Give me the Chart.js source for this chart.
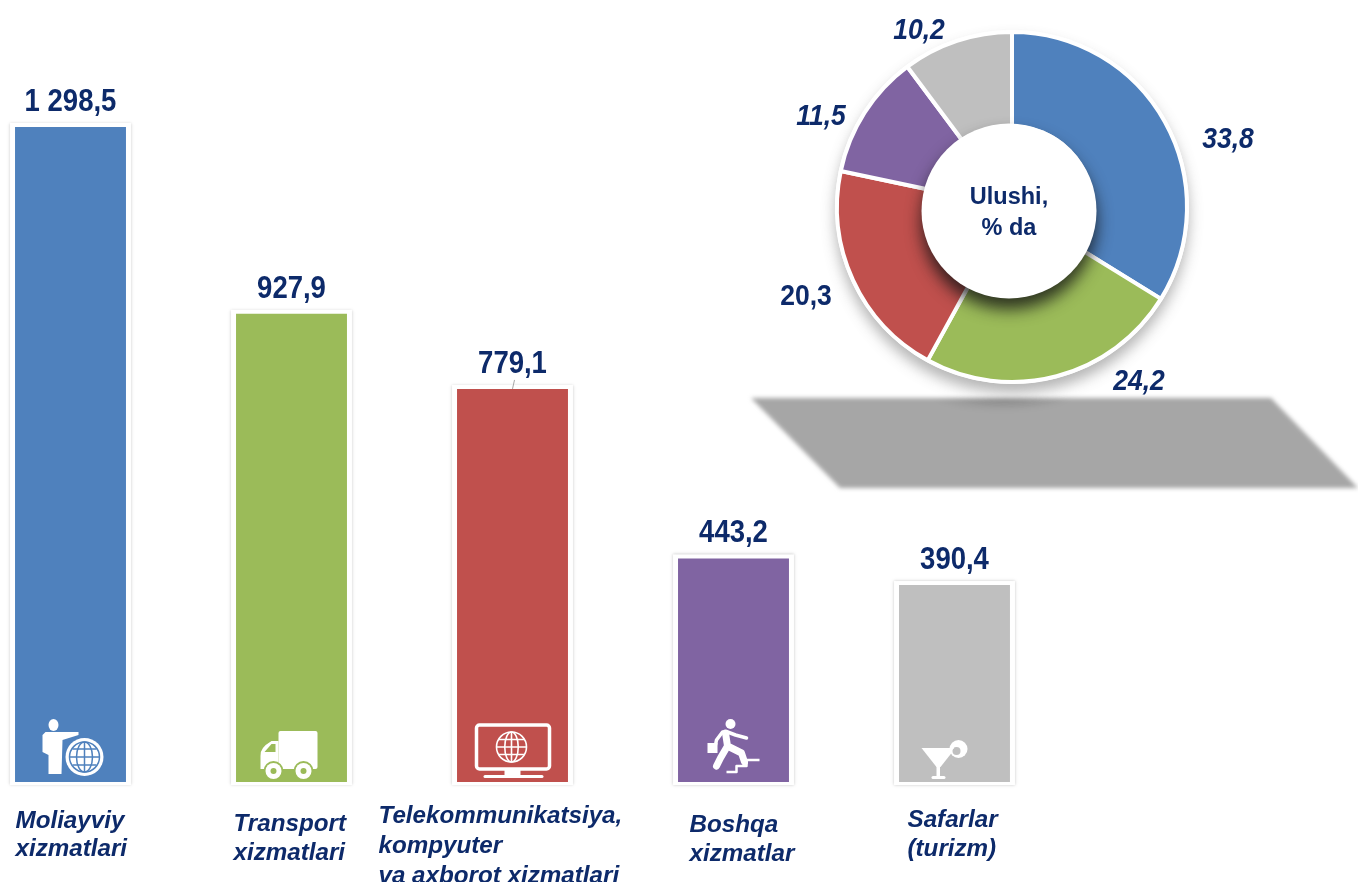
<!DOCTYPE html>
<html>
<head>
<meta charset="utf-8">
<title>Xizmatlar</title>
<script src="https://cdn.jsdelivr.net/npm/chart.js@4"></script>
<style>
    html, body { margin: 0; padding: 0; background: #fff; width: 1358px; height: 882px; overflow: hidden; }
    #page { position: relative; width: 1358px; height: 882px; overflow: hidden; filter: blur(0.4px); }
    #barChart { position: absolute; left: -40px; top: 0; }
    #pieChart { position: absolute; left: 750px; top: 0; }
    #floorWrap { position: absolute; left: 740px; top: 390px; width: 640px; height: 110px; filter: blur(2px); }
    #floor {
        position: absolute; inset: 0;
        background:
            radial-gradient(ellipse 70px 14px at 262px 8px, rgba(120,120,120,.55), rgba(120,120,120,0)),
            #a6a6a6;
        clip-path: polygon(11px 8px, 531px 8px, 618px 98px, 100px 98px);
    }
</style>
</head>
<body>
<div id="page">
    <div id="floorWrap"><div id="floor"></div></div>
    <canvas id="barChart" width="1398" height="882"></canvas>
    <canvas id="pieChart" width="524" height="420"></canvas>
</div>

<script>
// Data
const categories = ["Moliayviy xizmatlari", "Transport xizmatlari", "Telekommunikatsiya, kompyuter va axborot xizmatlari", "Boshqa xizmatlar", "Safarlar (turizm)"];
const volumes = [1298.5, 927.9, 779.1, 443.2, 390.4];
const volumeLabels = ["1 298,5", "927,9", "779,1", "443,2", "390,4"];
const shares = [33.8, 24.2, 20.3, 11.5, 10.2];
const shareLabels = ["33,8", "24,2", "20,3", "11,5", "10,2"];
const categoryLines = [
    ["Moliayviy", "xizmatlari"],
    ["Transport", "xizmatlari"],
    ["Telekommunikatsiya,", "kompyuter", "va axborot xizmatlari"],
    ["Boshqa", "xizmatlar"],
    ["Safarlar", "(turizm)"]
];
const centerLines = ["Ulushi,", "% da"];

// Colours
const colors = ["#4f81bd", "#9bbb59", "#c0504d", "#8064a2", "#bfbfbf"];
const navy = "#0d2a6a";

// Text placement (relative to the bar centre / the doughnut centre)
const categoryDx = [-55, -58, -134, -44, -47];
const categoryFirstY = [821, 824, 816, 825, 820];
const categoryGap = [28.5, 29, 30, 29, 29.5];
const shareDx = [216, 127, -206, -191, -93];
const shareDy = [-67, 175, 90, -90, -176];
const shareItalic = [true, true, false, true, true];

function stretchedText(ctx, text, x, y, font, stretch) {
    ctx.save();
    ctx.font = font;
    ctx.translate(x, y);
    ctx.scale(1, stretch);
    ctx.fillText(text, 0, 0);
    ctx.restore();
}

// Small white icons at the foot of the bars
function drawGlobe(ctx, x, y, r, lw) {
    ctx.save();
    ctx.lineWidth = lw;
    ctx.strokeStyle = "#fff";
    ctx.beginPath(); ctx.arc(x, y, r, 0, Math.PI * 2); ctx.stroke();
    ctx.beginPath(); ctx.ellipse(x, y, r * 0.45, r, 0, 0, Math.PI * 2); ctx.stroke();
    ctx.beginPath();
    ctx.moveTo(x, y - r); ctx.lineTo(x, y + r);
    ctx.moveTo(x - r, y); ctx.lineTo(x + r, y);
    ctx.moveTo(x - r * 0.85, y - r * 0.5); ctx.lineTo(x + r * 0.85, y - r * 0.5);
    ctx.moveTo(x - r * 0.85, y + r * 0.5); ctx.lineTo(x + r * 0.85, y + r * 0.5);
    ctx.stroke();
    ctx.restore();
}

const icons = [
    function (ctx, c, b) { // man with globe
        ctx.beginPath(); ctx.ellipse(c - 17, b - 57, 5, 6, 0, 0, Math.PI * 2); ctx.fill();
        ctx.beginPath();
        ctx.moveTo(c - 25, b - 50);
        ctx.lineTo(c - 12, b - 50);
        ctx.lineTo(c + 8, b - 50);
        ctx.lineTo(c + 8, b - 47);
        ctx.lineTo(c - 8, b - 42);
        ctx.lineTo(c - 9, b - 8);
        ctx.lineTo(c - 22, b - 8);
        ctx.lineTo(c - 22, b - 27);
        ctx.lineTo(c - 28, b - 30);
        ctx.lineTo(c - 28, b - 47);
        ctx.closePath();
        ctx.fill();
        ctx.beginPath(); ctx.arc(c + 14, b - 25, 19, 0, Math.PI * 2); ctx.fill();
        ctx.strokeStyle = colors[0];
        ctx.lineWidth = 1.5;
        ctx.beginPath(); ctx.ellipse(c + 14, b - 25, 8, 15, 0, 0, Math.PI * 2); ctx.stroke();
        ctx.beginPath(); ctx.arc(c + 14, b - 25, 15, 0, Math.PI * 2); ctx.stroke();
        ctx.beginPath();
        ctx.moveTo(c + 14, b - 40); ctx.lineTo(c + 14, b - 10);
        ctx.moveTo(c - 1, b - 25); ctx.lineTo(c + 29, b - 25);
        ctx.moveTo(c + 2, b - 33); ctx.lineTo(c + 26, b - 33);
        ctx.moveTo(c + 2, b - 17); ctx.lineTo(c + 26, b - 17);
        ctx.stroke();
    },
    function (ctx, c, b) { // truck
        ctx.beginPath(); ctx.roundRect(c - 13, b - 51, 39, 38, 2); ctx.fill();
        ctx.beginPath();
        ctx.moveTo(c - 13, b - 41);
        ctx.lineTo(c - 20, b - 41);
        ctx.quadraticCurveTo(c - 32, b - 34, c - 31, b - 26);
        ctx.lineTo(c - 31, b - 13);
        ctx.lineTo(c - 13, b - 13);
        ctx.closePath();
        ctx.fill();
        ctx.fillStyle = colors[1];
        ctx.beginPath();
        ctx.moveTo(c - 16, b - 38); ctx.lineTo(c - 20, b - 38); ctx.lineTo(c - 27, b - 30); ctx.lineTo(c - 16, b - 30);
        ctx.closePath(); ctx.fill();
        [-18, 12].forEach(function (dx) {
            ctx.fillStyle = colors[1];
            ctx.beginPath(); ctx.arc(c + dx, b - 11, 10, 0, Math.PI * 2); ctx.fill();
            ctx.fillStyle = "#fff";
            ctx.beginPath(); ctx.arc(c + dx, b - 11, 8, 0, Math.PI * 2); ctx.fill();
            ctx.fillStyle = colors[1];
            ctx.beginPath(); ctx.arc(c + dx, b - 11, 3, 0, Math.PI * 2); ctx.fill();
        });
    },
    function (ctx, c, b) { // monitor with globe
        ctx.strokeStyle = "#fff";
        ctx.lineWidth = 3.5;
        ctx.beginPath(); ctx.roundRect(c - 36, b - 57, 73, 44, 3); ctx.stroke();
        ctx.fillRect(c - 8, b - 13, 16, 8);
        ctx.beginPath(); ctx.roundRect(c - 29, b - 7, 60, 3, 1.5); ctx.fill();
        drawGlobe(ctx, c - 1, b - 35, 15, 1.6);
    },
    function (ctx, c, b) { // man on stairs
        ctx.beginPath(); ctx.arc(c - 3, b - 58, 5, 0, Math.PI * 2); ctx.fill();
        ctx.strokeStyle = "#fff";
        ctx.lineCap = "round";
        ctx.lineJoin = "round";
        ctx.lineWidth = 7;
        ctx.beginPath(); // body and legs
        ctx.moveTo(c - 8, b - 49); ctx.lineTo(c - 6, b - 36); ctx.lineTo(c + 8, b - 29); ctx.lineTo(c + 11, b - 20);
        ctx.moveTo(c - 6, b - 36); ctx.lineTo(c - 13, b - 24); ctx.lineTo(c - 17, b - 16);
        ctx.stroke();
        ctx.lineWidth = 3.5;
        ctx.beginPath(); // arms
        ctx.moveTo(c - 6, b - 50); ctx.lineTo(c + 2, b - 47); ctx.lineTo(c + 13, b - 44);
        ctx.moveTo(c - 11, b - 50); ctx.lineTo(c - 17, b - 42); ctx.lineTo(c - 18, b - 37);
        ctx.stroke();
        ctx.fillRect(c - 26, b - 39, 10, 10);
        ctx.lineWidth = 2.5;
        ctx.lineCap = "butt";
        ctx.beginPath(); // stairs
        ctx.moveTo(c - 7, b - 10); ctx.lineTo(c + 3, b - 10); ctx.lineTo(c + 3, b - 16); ctx.lineTo(c + 13, b - 16);
        ctx.lineTo(c + 13, b - 22); ctx.lineTo(c + 26, b - 22);
        ctx.stroke();
    },
    function (ctx, c, b) { // cocktail glass
        ctx.beginPath();
        ctx.moveTo(c - 33, b - 34); ctx.lineTo(c + 1, b - 34); ctx.lineTo(c - 14, b - 15); ctx.lineTo(c - 18, b - 15);
        ctx.closePath(); ctx.fill();
        ctx.fillRect(c - 18, b - 16, 3.5, 12);
        ctx.beginPath(); ctx.roundRect(c - 23, b - 6, 14, 3, 1.5); ctx.fill();
        ctx.beginPath(); ctx.arc(c + 4, b - 33, 9, 0, Math.PI * 2); ctx.fill();
        ctx.fillStyle = colors[4];
        ctx.beginPath(); ctx.arc(c + 2, b - 31, 4, 0, Math.PI * 2); ctx.fill();
        ctx.strokeStyle = "#fff";
        ctx.lineWidth = 2.5;
        ctx.beginPath(); ctx.moveTo(c - 1, b - 35); ctx.lineTo(c - 10, b - 27); ctx.stroke();
    }
];

// White frame behind each bar with a faint grey edge
const barFrames = {
    id: "barFrames",
    beforeDatasetsDraw(chart) {
        const ctx = chart.ctx;
        ctx.save();
        chart.getDatasetMeta(0).data.forEach(function (bar) {
            ctx.fillStyle = "#fff";
            ctx.shadowColor = "rgba(120,120,120,.4)";
            ctx.shadowBlur = 3;
            ctx.fillRect(bar.x - bar.width / 2 - 5, bar.y - 4, bar.width + 10, bar.base - bar.y + 7);
        });
        ctx.restore();
    }
};

const barText = {
    id: "barText",
    afterDatasetsDraw(chart) {
        const ctx = chart.ctx;
        const bars = chart.getDatasetMeta(0).data;
        ctx.save();
        bars.forEach(function (bar, i) {
            // icon
            ctx.save();
            ctx.fillStyle = "#fff";
            icons[i](ctx, bar.x, bar.base);
            ctx.restore();

            // value above the bar
            ctx.fillStyle = navy;
            ctx.textAlign = "center";
            ctx.textBaseline = "alphabetic";
            stretchedText(ctx, volumeLabels[i], bar.x, bar.y - 16, "bold 27.5px 'Liberation Sans'", 1.12);

            // category name under the bar
            ctx.textAlign = "left";
            ctx.textBaseline = "middle";
            categoryLines[i].forEach(function (line, k) {
                stretchedText(ctx, line, bar.x + categoryDx[i], categoryFirstY[i] + k * categoryGap[i], "italic bold 24.2px 'Liberation Sans'", 1);
            });
        });

        // short leader line above the red bar
        ctx.strokeStyle = "#a6a6a6";
        ctx.lineWidth = 1;
        ctx.beginPath();
        ctx.moveTo(bars[2].x + 2, bars[2].y - 9);
        ctx.lineTo(bars[2].x, bars[2].y);
        ctx.stroke();
        ctx.restore();
    }
};

new Chart(document.getElementById("barChart"), {
    type: "bar",
    data: {
        labels: categories,
        datasets: [{
            data: volumes,
            backgroundColor: colors,
            borderWidth: 0,
            barPercentage: 0.502,
            categoryPercentage: 1
        }]
    },
    options: {
        responsive: false,
        animation: false,
        layout: { padding: { left: 0, right: 293, top: 0, bottom: 100 } },
        plugins: { legend: { display: false }, tooltip: { enabled: false } },
        scales: {
            x: { display: false },
            y: { display: false, min: 0, max: 1550 }
        }
    },
    plugins: [barFrames, barText]
});

// Doughnut: white plate and soft shadow under it, raised white disc in the hole
const pieDecor = {
    id: "pieDecor",
    beforeDatasetsDraw(chart) {
        const ctx = chart.ctx;
        const arc = chart.getDatasetMeta(0).data[0];
        ctx.save();
        ctx.fillStyle = "#fff";
        ctx.shadowColor = "rgba(90,90,90,.45)";
        ctx.shadowBlur = 14;
        ctx.shadowOffsetY = 9;
        ctx.beginPath();
        ctx.arc(arc.x, arc.y, arc.outerRadius + 2, 0, Math.PI * 2);
        ctx.fill();
        ctx.restore();
    },
    afterDatasetsDraw(chart) {
        const ctx = chart.ctx;
        const arcs = chart.getDatasetMeta(0).data;
        const cx = arcs[0].x;
        const cy = arcs[0].y;
        ctx.save();
        ctx.fillStyle = "#fff";
        ctx.shadowColor = "rgba(20,20,20,.8)";
        ctx.shadowBlur = 16;
        ctx.shadowOffsetY = 11;
        ctx.beginPath();
        ctx.arc(cx - 3, cy + 4, arcs[0].innerRadius + 7, 0, Math.PI * 2);
        ctx.fill();
        ctx.restore();

        ctx.save();
        ctx.fillStyle = navy;
        ctx.textAlign = "center";
        ctx.textBaseline = "middle";
        centerLines.forEach(function (line, k) {
            stretchedText(ctx, line, cx - 3, cy - 10 + k * 31, "bold 23.5px 'Liberation Sans'", 1.02);
        });
        shareLabels.forEach(function (label, i) {
            const style = shareItalic[i] ? "italic bold" : "bold";
            stretchedText(ctx, label, cx + shareDx[i], cy + shareDy[i], style + " 26.5px 'Liberation Sans'", 1.12);
        });
        ctx.restore();
    }
};

new Chart(document.getElementById("pieChart"), {
    type: "doughnut",
    data: {
        labels: categories,
        datasets: [{
            data: shares,
            backgroundColor: colors,
            borderColor: "#fff",
            borderWidth: 4
        }]
    },
    options: {
        responsive: false,
        animation: false,
        radius: 175,
        cutout: "46%",
        layout: { padding: { left: 0, right: 0, top: 0, bottom: 6 } },
        plugins: { legend: { display: false }, tooltip: { enabled: false } }
    },
    plugins: [pieDecor]
});
</script>
</body>
</html>
